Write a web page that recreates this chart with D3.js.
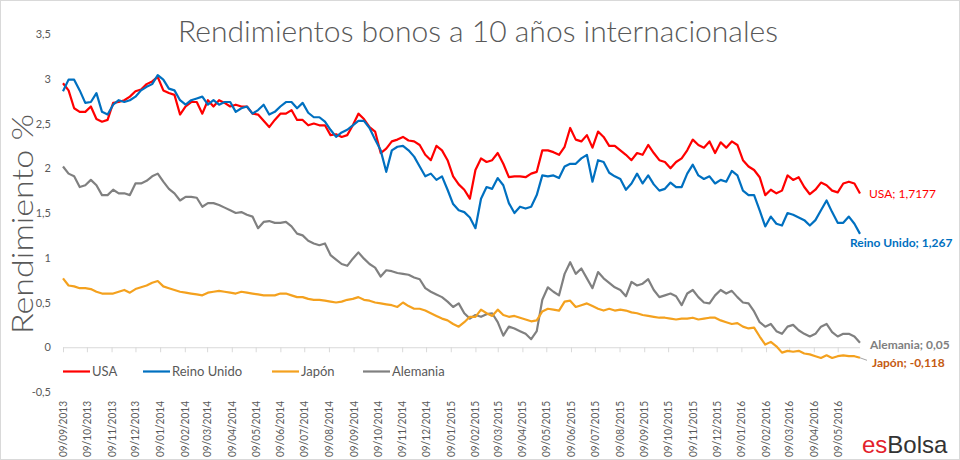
<!DOCTYPE html>
<html><head><meta charset="utf-8">
<script src="https://cdn.jsdelivr.net/npm/d3@7"></script>
<style>
html,body{margin:0;padding:0;background:#fff;}
svg{display:block;font-family:Lato,"Open Sans",sans-serif;}
</style></head>
<body><svg id="c" width="960" height="460"></svg>
<script>
// ---- DATA (weekly readings from 09/09/2013) ----
const startDate = "09/09/2013";
const usa = [2.95,2.87,2.67,2.63,2.63,2.69,2.55,2.52,2.54,2.73,2.74,2.76,2.80,2.86,2.88,2.94,2.97,3.02,2.87,2.84,
2.82,2.60,2.69,2.74,2.74,2.61,2.76,2.69,2.76,2.73,2.69,2.71,2.69,2.69,2.61,2.60,2.53,2.46,2.54,2.61,
2.61,2.65,2.54,2.54,2.48,2.50,2.48,2.48,2.37,2.38,2.35,2.37,2.48,2.61,2.55,2.46,2.41,2.17,2.22,2.30,
2.32,2.35,2.31,2.30,2.26,2.15,2.09,2.25,2.20,2.09,1.91,1.82,1.76,1.66,1.98,2.11,2.07,2.09,2.17,2.05,
1.90,1.91,1.91,1.90,1.94,1.96,2.20,2.20,2.18,2.15,2.24,2.45,2.32,2.30,2.37,2.23,2.41,2.35,2.25,2.25,
2.20,2.15,2.09,2.17,2.15,2.26,2.17,2.09,2.07,2.00,2.07,2.11,2.20,2.32,2.26,2.23,2.30,2.17,2.29,2.23,
2.30,2.26,2.09,2.02,1.98,1.90,1.70,1.76,1.72,1.75,1.92,1.87,1.90,1.79,1.71,1.76,1.84,1.81,1.75,1.73,
1.83,1.85,1.83,1.7177];
const reinoUnido = [2.86,2.99,2.99,2.87,2.73,2.74,2.84,2.63,2.60,2.71,2.76,2.74,2.76,2.80,2.87,2.91,2.94,3.04,2.99,2.89,
2.87,2.76,2.71,2.76,2.78,2.80,2.71,2.76,2.71,2.74,2.74,2.63,2.67,2.69,2.61,2.65,2.71,2.60,2.63,2.69,
2.74,2.74,2.67,2.73,2.62,2.57,2.57,2.52,2.43,2.35,2.40,2.43,2.48,2.53,2.53,2.45,2.32,2.20,1.96,2.20,
2.24,2.25,2.20,2.13,2.02,1.91,1.94,1.87,1.91,1.76,1.60,1.53,1.51,1.45,1.33,1.66,1.79,1.77,1.89,1.81,
1.61,1.50,1.57,1.55,1.57,1.70,1.92,1.91,1.92,1.89,2.02,2.05,2.05,2.11,2.15,1.85,2.09,2.07,1.95,1.91,
1.88,1.76,1.83,1.94,1.83,1.92,1.82,1.75,1.77,1.84,1.79,1.79,1.94,2.04,1.92,1.88,1.91,1.83,1.87,1.85,
1.97,1.92,1.75,1.70,1.70,1.53,1.35,1.46,1.38,1.36,1.50,1.48,1.45,1.42,1.36,1.42,1.53,1.64,1.51,1.39,
1.39,1.46,1.38,1.267];
const japon = [0.77,0.69,0.68,0.66,0.66,0.65,0.62,0.60,0.60,0.60,0.62,0.64,0.61,0.65,0.67,0.69,0.72,0.74,0.68,0.66,
0.64,0.62,0.61,0.60,0.59,0.58,0.61,0.62,0.63,0.62,0.61,0.60,0.62,0.61,0.60,0.59,0.58,0.58,0.58,0.60,
0.60,0.58,0.56,0.56,0.54,0.53,0.53,0.52,0.51,0.50,0.51,0.53,0.54,0.56,0.53,0.52,0.50,0.49,0.48,0.47,
0.45,0.50,0.46,0.43,0.43,0.41,0.38,0.35,0.32,0.30,0.26,0.23,0.28,0.34,0.34,0.42,0.38,0.35,0.42,0.36,
0.34,0.35,0.33,0.31,0.29,0.30,0.40,0.43,0.42,0.41,0.51,0.52,0.45,0.47,0.49,0.46,0.43,0.41,0.43,0.41,
0.42,0.41,0.39,0.38,0.36,0.35,0.34,0.33,0.33,0.32,0.31,0.32,0.32,0.33,0.31,0.32,0.33,0.33,0.30,0.28,
0.26,0.27,0.23,0.21,0.22,0.12,0.03,0.06,0.01,-0.06,-0.04,-0.05,-0.04,-0.07,-0.08,-0.10,-0.12,-0.09,-0.12,-0.10,
-0.09,-0.10,-0.10,-0.118];
const alemania = [2.02,1.94,1.91,1.79,1.81,1.87,1.81,1.70,1.70,1.76,1.72,1.72,1.70,1.83,1.83,1.86,1.91,1.94,1.85,1.77,
1.72,1.64,1.68,1.68,1.67,1.57,1.61,1.61,1.59,1.56,1.53,1.50,1.51,1.48,1.46,1.33,1.40,1.41,1.39,1.39,
1.40,1.35,1.27,1.25,1.19,1.16,1.14,1.16,1.03,0.98,0.93,0.91,0.99,1.06,0.99,0.93,0.89,0.79,0.86,0.85,
0.83,0.82,0.81,0.78,0.76,0.66,0.62,0.59,0.56,0.51,0.45,0.49,0.38,0.32,0.36,0.34,0.37,0.38,0.28,0.13,
0.23,0.21,0.18,0.15,0.09,0.18,0.53,0.67,0.62,0.58,0.82,0.95,0.82,0.88,0.77,0.66,0.84,0.77,0.72,0.67,
0.64,0.57,0.73,0.69,0.71,0.76,0.64,0.56,0.58,0.60,0.57,0.47,0.60,0.64,0.56,0.50,0.49,0.58,0.64,0.60,
0.63,0.56,0.50,0.49,0.40,0.28,0.23,0.26,0.18,0.15,0.23,0.25,0.19,0.15,0.12,0.15,0.23,0.26,0.17,0.12,
0.15,0.15,0.12,0.05];
const seriesNames = ["USA","Reino Unido","Japón","Alemania"];
const seriesColors = ["#ff0000","#0070c0","#f4a11e","#808080"];
const endLabels = ["USA; 1,7177","Reino Unido; 1,267","Japón; -0,118","Alemania; 0,05"];
const yTicks = [-0.5,0,0.5,1,1.5,2,2.5,3,3.5];
const yTickLabels = ["-0,5","0","0,5","1","1,5","2","2,5","3","3,5"];
const xTickLabels = ["09/09/2013","09/10/2013","09/11/2013","09/12/2013","09/01/2014","09/02/2014","09/03/2014",
"09/04/2014","09/05/2014","09/06/2014","09/07/2014","09/08/2014","09/09/2014","09/10/2014","09/11/2014",
"09/12/2014","09/01/2015","09/02/2015","09/03/2015","09/04/2015","09/05/2015","09/06/2015","09/07/2015",
"09/08/2015","09/09/2015","09/10/2015","09/11/2015","09/12/2015","09/01/2016","09/02/2016","09/03/2016",
"09/04/2016","09/05/2016"];

// ---- CHART ----
const parse = d3.timeParse("%d/%m/%Y");
const t0 = parse(startDate);
const dates = usa.map((_, i) => d3.timeDay.offset(t0, 7 * i));
const svg = d3.select("#c");
const gray = "#595959";

svg.append("rect").attr("x",0.5).attr("y",0.5).attr("width",959).attr("height",459)
  .attr("fill","#fff").attr("stroke","#d9d9d9");

const x = d3.scaleTime().domain([t0, dates[dates.length-1]]).range([63, 860]);
const y = d3.scaleLinear().domain([-0.5, 3.5]).range([392, 34]);

// title
svg.append("text").attr("x",478).attr("y",42).attr("text-anchor","middle")
  .attr("font-size",30).attr("font-weight",300).attr("fill",gray)
  .attr("textLength",600).attr("lengthAdjust","spacingAndGlyphs")
  .text("Rendimientos bonos a 10 años internacionales");

// y axis title
svg.append("text").attr("transform","translate(33,224) rotate(-90)").attr("text-anchor","middle")
  .attr("font-size",30).attr("font-weight",300).attr("fill",gray)
  .attr("textLength",220).attr("lengthAdjust","spacingAndGlyphs")
  .text("Rendimiento %");

// y axis labels
const yAxis = d3.axisLeft(y).tickValues(yTicks).tickSize(0).tickPadding(0)
  .tickFormat((d,i) => yTickLabels[i]);
const gy = svg.append("g").attr("transform","translate(51,0)").call(yAxis);
gy.select(".domain").remove();
gy.selectAll("text").attr("font-size",11).attr("fill",gray).attr("font-family","Lato, sans-serif");

// x axis at y=0
const xTickDates = xTickLabels.map(parse);
const xAxis = d3.axisBottom(x).tickValues(xTickDates).tickSize(5).tickFormat("");
const gx = svg.append("g").attr("transform",`translate(0,${y(0)})`).call(xAxis);
gx.select(".domain").attr("stroke","#d9d9d9").attr("d",`M63,0.5H860`);
gx.selectAll(".tick line").attr("stroke","#d9d9d9");

// rotated date labels at bottom
svg.append("g").selectAll("text").data(xTickDates).join("text")
  .attr("transform", (d) => `translate(${x(d)+4},401) rotate(-90)`)
  .attr("text-anchor","end").attr("font-size",11).attr("fill",gray)
  .attr("textLength",56).attr("lengthAdjust","spacingAndGlyphs")
  .text((d,i) => xTickLabels[i]);

// lines
const allSeries = [usa, reinoUnido, japon, alemania];
const drawOrder = [3, 2, 0, 1];
const line = d3.line().x((d,i) => x(dates[i])).y(d => y(d));
drawOrder.forEach(k => {
  svg.append("path").datum(allSeries[k]).attr("fill","none")
    .attr("stroke",seriesColors[k]).attr("stroke-width",2.2)
    .attr("stroke-linejoin","round").attr("d",line);
});

// legend
const legX = [63,143,272,363];
const lg = svg.append("g");
seriesNames.forEach((n,k) => {
  lg.append("line").attr("x1",legX[k]).attr("x2",legX[k]+27).attr("y1",371.5).attr("y2",371.5)
    .attr("stroke",seriesColors[k]).attr("stroke-width",2.2);
  lg.append("text").attr("x",legX[k]+29).attr("y",376).attr("font-size",13).attr("fill",gray).text(n);
});

// end labels
const lastDate = dates[dates.length-1];
const endPos = [
  {dx: 869, dy: 198, col:"#ff0000", w:"normal"},
  {dx: 850, dy: 247, col:"#0070c0", w:"bold"},
  {dx: 872, dy: 367, col:"#c55a11", w:"bold"},
  {dx: 870, dy: 349, col:"#7f7f7f", w:"bold"}
];
// leader line for Japón
svg.append("line").attr("x1",x(lastDate)).attr("y1",y(japon[japon.length-1]))
  .attr("x2",x(lastDate)+7).attr("y2",y(japon[japon.length-1])+2.5)
  .attr("stroke","#a6a6a6").attr("stroke-width",1);
endLabels.forEach((t,k) => {
  svg.append("text").attr("x",endPos[k].dx).attr("y",endPos[k].dy)
    .attr("font-size",12).attr("font-weight",endPos[k].w).attr("fill",endPos[k].col).text(t);
});

// logo
const logo = svg.append("text").attr("x",862).attr("y",453).attr("font-size",24)
  .attr("font-family","'Liberation Sans', Arial, sans-serif");
logo.append("tspan").attr("fill","#e3212b").text("es");
logo.append("tspan").attr("fill","#333333").text("Bolsa");
</script>
</body></html>
